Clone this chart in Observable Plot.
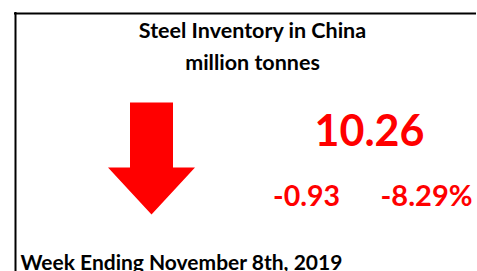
<!DOCTYPE html>
<html>
<head>
<meta charset="utf-8">
<script src="https://cdn.jsdelivr.net/npm/d3@7"></script>
<script src="https://cdn.jsdelivr.net/npm/@observablehq/plot@0.6"></script>
<style>
  html, body { margin: 0; padding: 0; background: #fff; }
  #chart svg { display: block; }
</style>
</head>
<body>
<div id="chart"></div>
<script>
// ---- data ----
const titleLines = ["Steel Inventory in China", "million tonnes"];
const inventoryValue = [10.26];
const weeklyChange = [-0.93];
const weeklyChangePct = [-8.29];
const weekEnding = ["Week Ending November 8th, 2019"];

// ---- layout (card coordinate system, pixels) ----
const W = 477, H = 271;
const RED = "#ff0000";
const FONT = "Lato, 'Open Sans', sans-serif";

const change = weeklyChange[0];
const down = change < 0;
// arrow geometry (layout), pointing down for a decline
const ax = 151, shaftHalf = 21.5, headHalf = 43.5;
const arrowTop = down ? 102 : 214, arrowNeck = down ? 167 : 149, arrowTip = down ? 214 : 102;
const arrow = [
  [ax - shaftHalf, arrowTop], [ax + shaftHalf, arrowTop], [ax + shaftHalf, arrowNeck],
  [ax + headHalf, arrowNeck], [ax, arrowTip], [ax - headHalf, arrowNeck], [ax - shaftHalf, arrowNeck]
];

const fmt2 = d3.format(".2f");
const plot = Plot.plot({
  width: W, height: H,
  margin: 0,
  x: {domain: [0, W], range: [0, W], axis: null},
  y: {domain: [0, H], range: [0, H], axis: null},
  style: {background: "#fff", fontFamily: FONT, overflow: "visible"},
  marks: [
    // card border (left and top edges)
    Plot.ruleX([15], {y1: 12, y2: H, stroke: "#000", strokeWidth: 2}),
    Plot.ruleY([13], {x1: 14, x2: 476, stroke: "#000", strokeWidth: 2}),
    // title
    Plot.text(titleLines, {x: 252, y: (d, i) => i === 0 ? 37 : 69, text: d => d,
      fontSize: 21.5, fontWeight: "bold", fill: "#000", lineAnchor: "bottom", textAnchor: "middle"}),
    // arrow
    Plot.line(arrow, {x: d => d[0], y: d => d[1], fill: down ? RED : "#00b050", stroke: "none", curve: "linear-closed"}),
    // headline value
    Plot.text(inventoryValue, {x: 369, y: 145, text: d => fmt2(d),
      fontSize: 43, fontWeight: "bold", fill: RED, lineAnchor: "bottom", textAnchor: "middle"}),
    // absolute change
    Plot.text(weeklyChange, {x: 306, y: 205, text: d => fmt2(d).replace("−", "-"),
      fontSize: 28.5, fontWeight: "bold", fill: RED, lineAnchor: "bottom", textAnchor: "middle"}),
    // percent change
    Plot.text(weeklyChangePct, {x: 426, y: 205, text: d => fmt2(d).replace("−", "-") + "%",
      fontSize: 29, fontWeight: "bold", fill: RED, lineAnchor: "bottom", textAnchor: "middle"}),
    // footer
    Plot.text(weekEnding, {x: 20, y: 269, text: d => d,
      fontSize: 21, fontWeight: "bold", fill: "#000", lineAnchor: "bottom", textAnchor: "start"})
  ]
});
document.getElementById("chart").append(plot);
</script>
</body>
</html>
